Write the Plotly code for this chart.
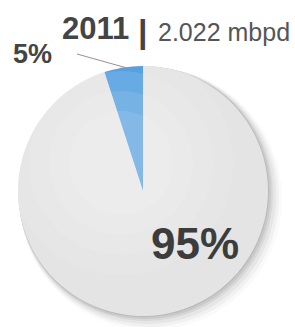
import plotly.graph_objects as go

labels = ["2011 share", "Other"]
values = [5, 95]
slice_colors = ["#4597dd", "#e4e4e4"]
year = "2011"
volume = "2.022 mbpd"

W, H = 295, 327
FONT = "Liberation Sans, Arial, sans-serif"

def px(x):
    return x / W

def py(y):
    return 1 - y / H

CX, CY, R = 143, 191, 125

fig = go.Figure()

fig.add_trace(go.Pie(
    labels=labels, values=values, sort=False, direction="clockwise",
    rotation=-values[0] / sum(values) * 360, textinfo="none", hoverinfo="label+percent",
    marker=dict(colors=slice_colors, line=dict(width=0)),
    domain=dict(x=[px(CX - R), px(CX + R)], y=[py(CY + R), py(CY - R)]),
    showlegend=False,
))

shapes = []
# soft drop shadow toward lower-right
for d, a in [(14, 0.03), (11, 0.05), (8, 0.07), (5, 0.09), (3, 0.11), (1, 0.13)]:
    shapes.append(dict(type="circle", xref="paper", yref="paper", layer="below",
                       x0=px(CX - R + d * 0.1), x1=px(CX + R + d), y0=py(CY + R + d), y1=py(CY - R + d * 0.1),
                       fillcolor=f"rgba(80,80,80,{a})", line=dict(width=0)))
# highlight toward upper-left
for r, a in [(112, 0.10), (92, 0.10), (72, 0.10), (52, 0.10)]:
    cx, cy = CX - 22, CY - 28
    shapes.append(dict(type="circle", xref="paper", yref="paper", layer="above",
                       x0=px(cx - r), x1=px(cx + r), y0=py(cy + r), y1=py(cy - r),
                       fillcolor=f"rgba(255,255,255,{a})", line=dict(width=0)))
# leader line
shapes.append(dict(type="line", xref="paper", yref="paper", layer="above",
                   x0=px(77), y0=py(54), x1=px(127), y1=py(68),
                   line=dict(color="#a08f8a", width=1)))

annotations = [
    dict(x=px(60), y=py(29), xref="paper", yref="paper", xanchor="left", yanchor="middle",
         showarrow=False, text=f"<b>{year}</b>",
         font=dict(family=FONT, size=31, color="#444444")),
    dict(x=px(143), y=py(31), xref="paper", yref="paper", xanchor="center", yanchor="middle",
         showarrow=False, text="<b>|</b>",
         font=dict(family=FONT, size=34, color="#444444")),
    dict(x=px(156), y=py(32), xref="paper", yref="paper", xanchor="left", yanchor="middle",
         showarrow=False, text=volume,
         font=dict(family=FONT, size=25, color="#555555")),
    dict(x=px(11), y=py(54), xref="paper", yref="paper", xanchor="left", yanchor="middle",
         showarrow=False, text=f"<b>{values[0]}%</b>",
         font=dict(family=FONT, size=27, color="#444444")),
    dict(x=px(195), y=py(243), xref="paper", yref="paper", xanchor="center", yanchor="middle",
         showarrow=False, text=f"<b>{values[1]}%</b>",
         font=dict(family=FONT, size=44, color="#3c3c3c")),
]

fig.update_layout(width=W, height=H, margin=dict(l=0, r=0, t=0, b=0),
                  paper_bgcolor="white", plot_bgcolor="white",
                  shapes=shapes, annotations=annotations)

fig.write_html("out.html", config={"displayModeBar": False},
               post_script="document.body.style.margin='0';")
